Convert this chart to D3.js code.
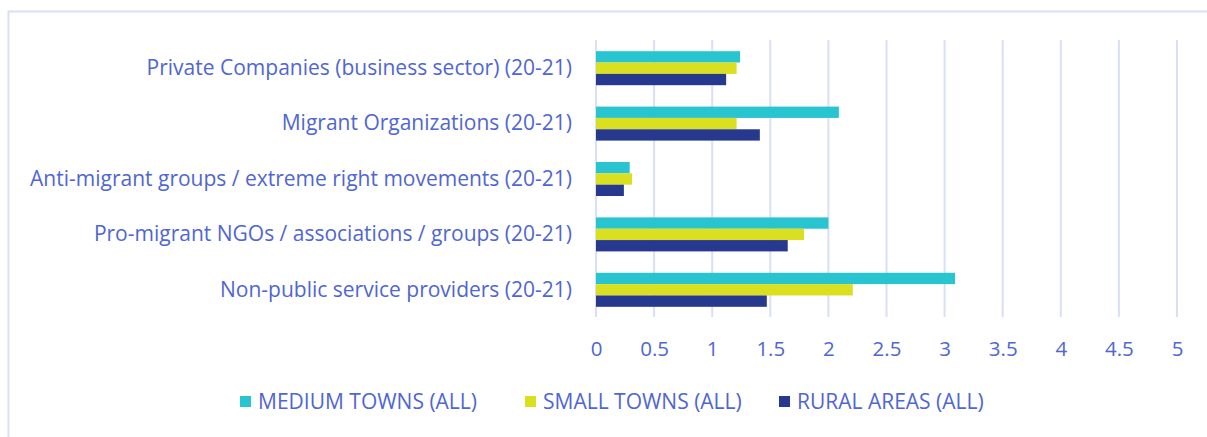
<!DOCTYPE html>
<html>
<head>
<meta charset="utf-8">
<script src="https://cdn.jsdelivr.net/npm/d3@7/dist/d3.min.js"></script>
<style>
  html, body { margin: 0; padding: 0; background: #fff; }
  svg { display: block; font-family: "Open Sans", "Lato", sans-serif; }
</style>
</head>
<body>
<div id="chart"></div>
<script>
// categories, top to bottom
const categories = [
  "Private Companies (business sector) (20-21)",
  "Migrant Organizations (20-21)",
  "Anti-migrant groups / extreme right movements (20-21)",
  "Pro-migrant NGOs / associations / groups (20-21)",
  "Non-public service providers (20-21)"
];
const seriesNames = ["MEDIUM TOWNS (ALL)", "SMALL TOWNS (ALL)", "RURAL AREAS (ALL)"];
const mediumTowns = [1.24, 2.09, 0.29, 2.0, 3.09];
const smallTowns = [1.21, 1.21, 0.31, 1.79, 2.21];
const ruralAreas = [1.12, 1.41, 0.24, 1.65, 1.47];
const xTicks = [0, 0.5, 1, 1.5, 2, 2.5, 3, 3.5, 4, 4.5, 5];

const colors = ["#28c5d1", "#dadf1f", "#26398f"];
const textColor = "#4f66d3";
const gridColor = "#d9dff5";

const width = 1207, height = 437;
const svg = d3.select("#chart").append("svg")
  .attr("width", width).attr("height", height);

// outer frame (only top and left visible)
svg.append("rect")
  .attr("x", 8.5).attr("y", 11.5)
  .attr("width", 1300).attr("height", 500)
  .attr("fill", "none").attr("stroke", gridColor).attr("stroke-width", 2);

const x = d3.scaleLinear().domain([0, 5]).range([596, 1177]);
const y = d3.scaleBand().domain(categories).range([40.5, 317.5]).paddingInner(0.386).paddingOuter(0.193);
const ySub = d3.scaleBand().domain(seriesNames).range([0, y.bandwidth()]);

// grid
svg.append("g").selectAll("line")
  .data(xTicks).enter().append("line")
  .attr("x1", d => x(d)).attr("x2", d => x(d))
  .attr("y1", 40).attr("y2", 317)
  .attr("stroke", gridColor).attr("stroke-width", 2);

// bars
const rows = categories.map((c, i) => ({
  cat: c,
  vals: [mediumTowns[i], smallTowns[i], ruralAreas[i]]
}));

const groups = svg.append("g").selectAll("g")
  .data(rows).enter().append("g")
  .attr("transform", d => `translate(0,${y(d.cat)})`);

groups.selectAll("rect")
  .data(d => d.vals.map((v, j) => ({ v, s: seriesNames[j], j })))
  .enter().append("rect")
  .attr("x", x(0))
  .attr("y", d => ySub(d.s))
  .attr("width", d => x(d.v) - x(0))
  .attr("height", ySub.bandwidth())
  .attr("fill", d => colors[d.j]);

// category labels
const yAxis = svg.append("g")
  .attr("transform", `translate(${x(0)},0)`)
  .call(d3.axisLeft(y).tickSize(0).tickPadding(24));
yAxis.select(".domain").remove();
yAxis.selectAll("text")
  .attr("fill", textColor)
  .style("font-family", "'Open Sans', sans-serif")
  .style("font-size", "21px");

// x tick labels
const xAxis = svg.append("g")
  .attr("transform", `translate(0,317)`)
  .call(d3.axisBottom(x).tickValues(xTicks).tickSize(0).tickPadding(24).tickFormat(d3.format("")));
xAxis.select(".domain").remove();
xAxis.selectAll("text")
  .attr("fill", textColor)
  .style("font-family", "'Open Sans', sans-serif")
  .style("font-size", "20.5px");

// legend
const legendX = [240, 525, 779];
const legend = svg.append("g").selectAll("g")
  .data(seriesNames).enter().append("g")
  .attr("transform", (d, i) => `translate(${legendX[i]},396)`);
legend.append("rect")
  .attr("width", 11).attr("height", 11)
  .attr("fill", (d, i) => colors[i]);
legend.append("text")
  .attr("x", 18).attr("y", 13)
  .attr("fill", textColor)
  .style("font-size", "21px")
  .text(d => d);
</script>
</body>
</html>
